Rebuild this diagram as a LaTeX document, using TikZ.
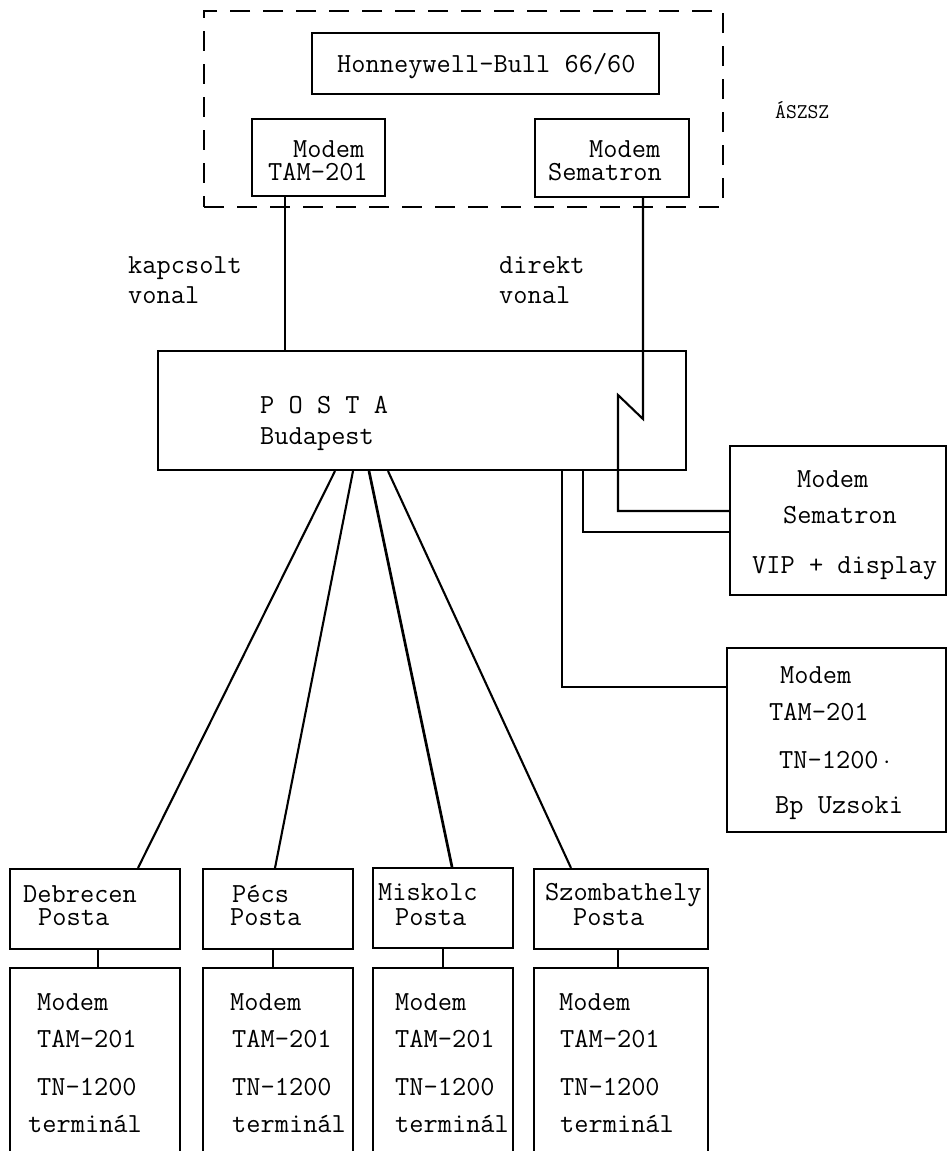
\documentclass[tikz,border=0pt]{standalone}
\usepackage{fontspec}
\usetikzlibrary{fit}
\tikzset{
  box/.style={draw, line width=2.1pt, inner sep=0pt},
  dashbox/.style={draw, line width=2.1pt, inner sep=0pt, dash pattern=on 20pt off 13pt},
  txt/.style={inner sep=0pt, anchor=base west, text height=17pt, text depth=2pt, font=\ttfamily\fontsize{27.6}{30}\selectfont},
  smalltxt/.style={inner sep=0pt, anchor=base west, font=\ttfamily\fontsize{21}{23}\selectfont},
  wire/.style={line width=2.1pt}
}
\begin{document}
\begin{tikzpicture}[x=1pt,y=-1pt]
\clip (0,0) rectangle (948,1151);
\fill[white] (0,0) rectangle (948,1151);

% boxes
\node[dashbox, fit={(204,11) (723,207)}] (aszszbox) {};
\node[box, fit={(312,33) (659,94)}] (hb) {};
\node[box, fit={(252,119) (385,196)}] (tam) {};
\node[box, fit={(535,119) (689,197)}] (sem) {};
\node[box, fit={(158,351) (686,470)}] (posta) {};
\node[box, fit={(730,446) (946,595)}] (vip) {};
\node[box, fit={(727,648) (946,832)}] (uz) {};
\node[box, fit={(10,869) (180,949)}] (deb) {};
\node[box, fit={(10,968) (180,1175)}] (debm) {};
\node[box, fit={(203,869) (353,949)}] (pec) {};
\node[box, fit={(203,968) (353,1175)}] (pecm) {};
\node[box, fit={(373,868) (513,948)}] (mis) {};
\node[box, fit={(373,968) (513,1175)}] (mism) {};
\node[box, fit={(534,869) (708,949)}] (szo) {};
\node[box, fit={(534,968) (708,1175)}] (szom) {};

% texts
\node[txt] (hbt) at (337,72) {Honneywell-Bull 66/60};
\node[txt] (tam1) at (293,157) {Modem};
\node[txt] (tam2) at (268,180) {TAM-201};
\node[txt] (sem1) at (589,157) {Modem};
\node[txt] (sem2) at (548,180) {Sematron};
\node[smalltxt] (aszsz) at (775,118) {ÁSZSZ};
\node[txt] (kap1) at (128,273) {kapcsolt};
\node[txt] (kap2) at (128,303) {vonal};
\node[txt] (dir1) at (499,273) {direkt};
\node[txt] (dir2) at (499,303) {vonal};
\node[txt] (po1) at (260,413) {P O S T A};
\node[txt] (po2) at (260,444) {Budapest};
\node[txt] (vip1) at (797,487) {Modem};
\node[txt] (vip2) at (783,523) {Sematron};
\node[txt] (vip3) at (752,573) {VIP + display};
\node[txt] (uz1) at (780,683) {Modem};
\node[txt] (uz2) at (769,720) {TAM-201};
\node[txt] (uz3) at (779,768) {TN-1200\,$\cdot$};
\node[txt] (uz4) at (775,813) {Bp Uzsoki};

\node[txt] (deb1) at (23,902) {Debrecen};
\node[txt] (deb2) at (38,925) {Posta};
\node[txt] (pec1) at (232,902) {Pécs};
\node[txt] (pec2) at (230,925) {Posta};
\node[txt] (mis1) at (378,900) {Miskolc};
\node[txt] (mis2) at (395,925) {Posta};
\node[txt] (szo1) at (545,900) {Szombathely};
\node[txt] (szo2) at (573,925) {Posta};

\node[txt] (debm1) at (37,1010) {Modem};
\node[txt] (debm2) at (37,1047) {TAM-201};
\node[txt] (debm3) at (37,1095) {TN-1200};
\node[txt] (debm4) at (28,1132) {terminál};
\node[txt] (pecm1) at (230,1010) {Modem};
\node[txt] (pecm2) at (232,1047) {TAM-201};
\node[txt] (pecm3) at (232,1095) {TN-1200};
\node[txt] (pecm4) at (232,1132) {terminál};
\node[txt] (mism1) at (395,1010) {Modem};
\node[txt] (mism2) at (395,1047) {TAM-201};
\node[txt] (mism3) at (395,1095) {TN-1200};
\node[txt] (mism4) at (395,1132) {terminál};
\node[txt] (szom1) at (559,1010) {Modem};
\node[txt] (szom2) at (560,1047) {TAM-201};
\node[txt] (szom3) at (560,1095) {TN-1200};
\node[txt] (szom4) at (560,1132) {terminál};

% helper coordinates
\coordinate (xA) at (285,0);
\coordinate (xB) at (643,0);
\coordinate (zz1) at (643,419);
\coordinate (zz2) at (618,395);
\coordinate (xC) at (618,0);
\coordinate (xD) at (583,0);
\coordinate (xE) at (562,0);
\coordinate (yV1) at (0,511);
\coordinate (yV2) at (0,532);
\coordinate (yU) at (0,687);
\coordinate (f1) at (335,0);
\coordinate (f2) at (353,0);
\coordinate (f3) at (369,0);
\coordinate (f4) at (388,0);
\coordinate (e1) at (138,0);
\coordinate (e2) at (275,0);
\coordinate (e3) at (452,0);
\coordinate (e4) at (571,0);
\coordinate (c1) at (98,0);
\coordinate (c2) at (273,0);
\coordinate (c3) at (443,0);
\coordinate (c4) at (618,0);

% connectors
\draw[wire] (tam.south -| xA) -- (posta.north -| xA);
\draw[wire] (sem.south -| xB) -- (zz1) -- (zz2) -- (xC |- yV1) -- (vip.west |- yV1);
\draw[wire] (posta.south -| xD) -- (xD |- yV2) -- (vip.west |- yV2);
\draw[wire] (posta.south -| xE) -- (xE |- yU) -- (uz.west |- yU);

\draw[wire] (posta.south -| f1) -- (deb.north -| e1);
\draw[wire] (posta.south -| f2) -- (pec.north -| e2);
\draw[wire, line width=2.7pt] (posta.south -| f3) -- (mis.north -| e3);
\draw[wire] (posta.south -| f4) -- (szo.north -| e4);

\draw[wire] (deb.south -| c1) -- (debm.north -| c1);
\draw[wire] (pec.south -| c2) -- (pecm.north -| c2);
\draw[wire] (mis.south -| c3) -- (mism.north -| c3);
\draw[wire] (szo.south -| c4) -- (szom.north -| c4);
\end{tikzpicture}
\end{document}
